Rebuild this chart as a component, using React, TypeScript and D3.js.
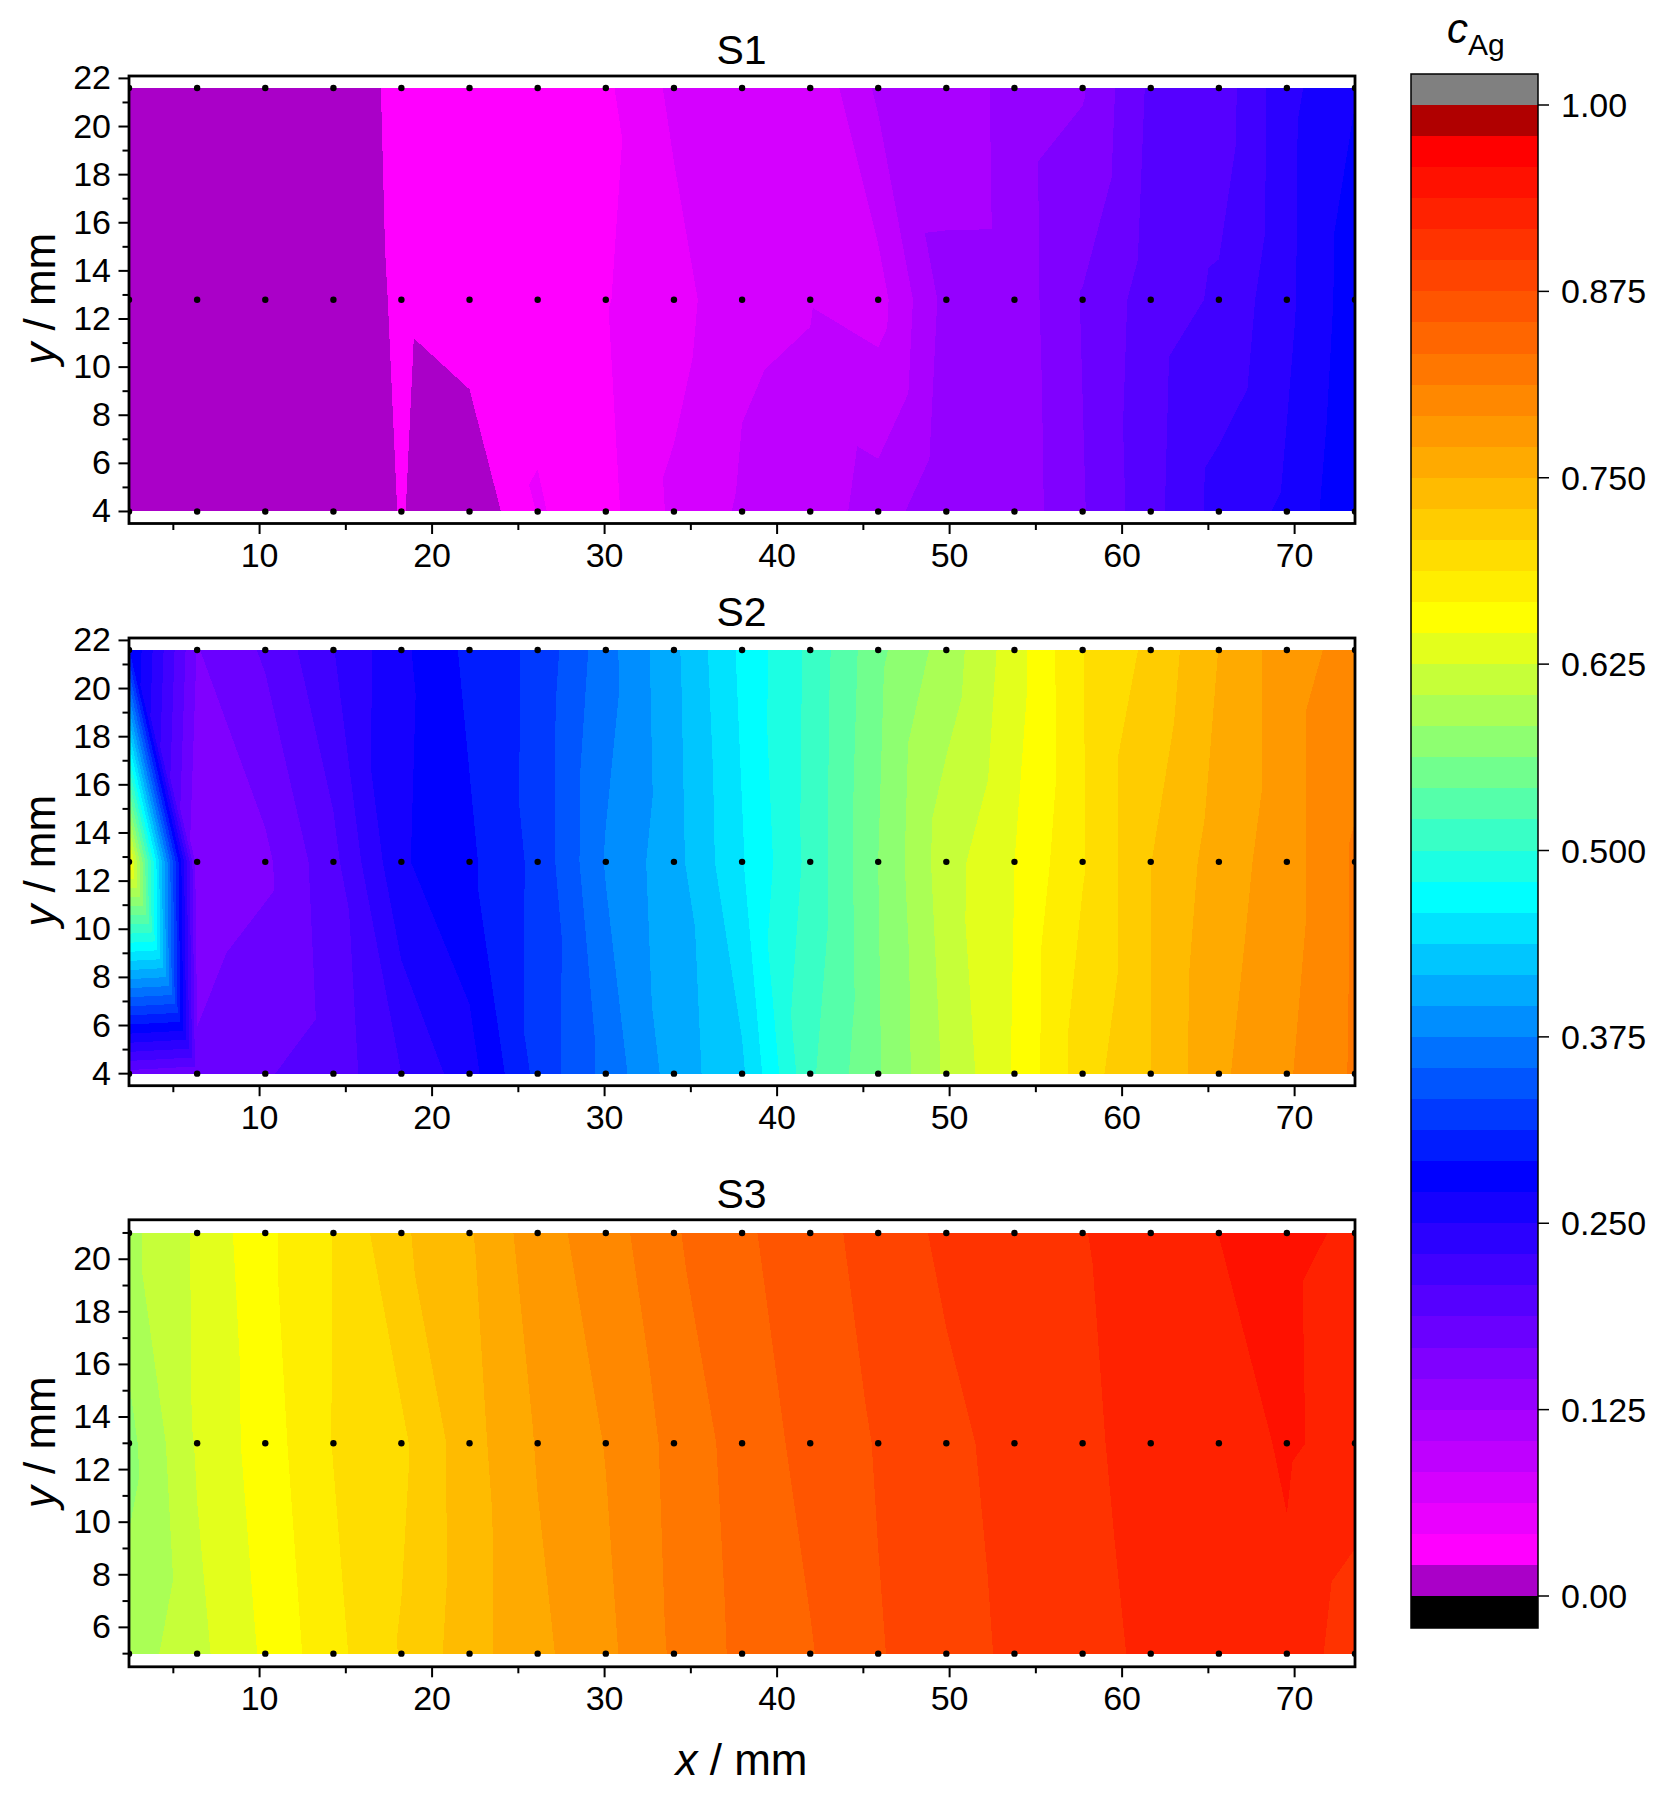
import * as React from "react";
import * as d3 from "d3";

// measuring positions along the strip (mm)
const xPositions = [2.43, 6.38, 10.33, 14.28, 18.22, 22.17, 26.12, 30.07, 34.02, 37.97, 41.92, 45.86, 49.81, 53.76, 57.71, 61.66, 65.61, 69.55, 73.5];

const s1Rows = [21.6, 12.8, 4];
const s1Top = [0.0104, 0.0104, 0.0104, 0.0077, 0.0265, 0.0271, 0.0313, 0.0379, 0.0673, 0.0667, 0.0648, 0.1083, 0.1092, 0.134, 0.1438, 0.1917, 0.1958, 0.2438, 0.2698];
const s1Mid = [0.0063, 0.0063, 0.0063, 0.0042, 0.025, 0.0346, 0.0375, 0.0406, 0.0535, 0.0792, 0.0821, 0.0744, 0.1327, 0.1329, 0.1681, 0.1977, 0.2113, 0.2448, 0.2829];
const s1Bottom = [0.0063, 0.0063, 0.0063, 0.0042, 0.0221, 0.0021, 0.0427, 0.035, 0.0667, 0.0863, 0.0917, 0.114, 0.1417, 0.1313, 0.165, 0.2008, 0.2373, 0.2538, 0.2894];

const s2Rows = [21.6, 12.8, 4];
const s2Top = [0.2948, 0.1656, 0.1906, 0.2281, 0.2663, 0.2969, 0.3179, 0.3667, 0.4119, 0.4633, 0.505, 0.5575, 0.5921, 0.6367, 0.6867, 0.7133, 0.7504, 0.7823, 0.8];
const s2Mid = [0.6646, 0.1521, 0.1621, 0.2021, 0.2681, 0.2879, 0.3183, 0.3767, 0.409, 0.4565, 0.5063, 0.5625, 0.6163, 0.6458, 0.6858, 0.7288, 0.7596, 0.7823, 0.8154];
const s2Bottom = [0.1792, 0.1708, 0.186, 0.1963, 0.2292, 0.2625, 0.3188, 0.361, 0.405, 0.4338, 0.5171, 0.5604, 0.6083, 0.6475, 0.6985, 0.7292, 0.7669, 0.7892, 0.8158];

const s3Rows = [21, 13, 5];
const s3Top = [0.5985, 0.6281, 0.6619, 0.6879, 0.726, 0.7479, 0.7835, 0.8021, 0.8313, 0.85, 0.8685, 0.8819, 0.901, 0.9083, 0.9156, 0.9292, 0.9377, 0.94, 0.9358];
const s3Mid = [0.5769, 0.6273, 0.6563, 0.6883, 0.7042, 0.7421, 0.7725, 0.7925, 0.8183, 0.8425, 0.8608, 0.8765, 0.8896, 0.9042, 0.9135, 0.9229, 0.926, 0.9406, 0.9292];
const s3Bottom = [0.5923, 0.619, 0.6494, 0.6813, 0.7098, 0.7417, 0.7656, 0.7863, 0.8156, 0.8385, 0.8527, 0.8735, 0.8867, 0.9, 0.9104, 0.9202, 0.9229, 0.9313, 0.9042];

const barTicks = [0, 0.125, 0.25, 0.375, 0.5, 0.625, 0.75, 0.875, 1];
const barLabels = ["0.00", "0.125", "0.250", "0.375", "0.500", "0.625", "0.750", "0.875", "1.00"];
const xMajor = [10, 20, 30, 40, 50, 60, 70];
const xMinor = [5, 15, 25, 35, 45, 55, 65];

const FONT = '"Liberation Sans", Arial, sans-serif';
const BANDS = 48;

const anchorColor = d3.scaleLinear<string>()
    .domain([1, 13, 22, 31, 46])
    .range(["#ff00ff", "#0000ff", "#00ffff", "#ffff00", "#ff0000"])
    .interpolate(d3.interpolateRgb);

const bandColor = (k: number) => {
    if (k <= 0) return "#aa00c8";
    if (k >= BANDS - 1) return "#b00000";
    return anchorColor(k);
};

type P = { x: number, y: number, v: number };

// cut a polygon at a level, keep the part above (sign 1) or below (sign -1)
const clip = (poly: P[], level: number, sign: number) => {
    const out: P[] = [];
    for (let i = 0; i < poly.length; i++) {
        const a = poly[i], b = poly[(i + 1) % poly.length];
        const ina = (a.v - level) * sign >= 0, inb = (b.v - level) * sign >= 0;
        if (ina) out.push(a);
        if (ina !== inb) {
            const t = (level - a.v) / (b.v - a.v);
            out.push({ x: a.x + t * (b.x - a.x), y: a.y + t * (b.y - a.y), v: level });
        }
    }
    return out;
};

// the surface is linear on triangles, each cell split from upper left to lower right
const bandPaths = (rows: number[], values: number[][], x: any, y: any) => {
    const line = d3.line<P>().x(d => x(d.x)).y(d => y(d.y));
    const paths: string[] = d3.range(BANDS).map(() => "");
    for (let r = 0; r < rows.length - 1; r++) {
        for (let i = 0; i < xPositions.length - 1; i++) {
            const pt = (ii: number, rr: number): P => ({ x: xPositions[ii], y: rows[rr], v: values[rr][ii] });
            const A = pt(i, r), B = pt(i + 1, r), C = pt(i, r + 1), D = pt(i + 1, r + 1);
            [[A, B, D], [A, C, D]].forEach(tri => {
                const vs = tri.map(d => d.v);
                const k0 = Math.floor(d3.min(vs)! * BANDS), k1 = Math.floor(d3.max(vs)! * BANDS);
                for (let k = k0; k <= k1; k++) {
                    const part = clip(clip(tri, k / BANDS, 1), (k + 1) / BANDS, -1);
                    if (part.length > 2) paths[k] += line(part) + "Z";
                }
            });
        }
    }
    return paths;
};

const xScale = d3.scaleLinear().domain([2.43, 73.5]).range([129, 1355]);

interface PanelProps {
    title: string;
    top: number;
    bottom: number;
    yDomain: number[];
    rows: number[];
    values: number[][];
    yFrom: number;
    yTo: number;
}

const Panel = ({ title, top, bottom, yDomain, rows, values, yFrom, yTo }: PanelProps) => {
    const y = d3.scaleLinear().domain(yDomain).range([bottom, top]);
    const paths = bandPaths(rows, values, xScale, y);
    const clipId = "box-" + title;
    const yTicks = d3.range(yFrom, yTo + 1);
    const [x0, x1] = xScale.range();
    return (
        <g>
            <clipPath id={clipId}><rect x={x0} y={top} width={x1 - x0} height={bottom - top} /></clipPath>
            <g shapeRendering="crispEdges">
                {paths.map((d, k) => d ? <path key={k} d={d} fill={bandColor(k)} /> : null)}
            </g>
            <g clipPath={`url(#${clipId})`}>
                {rows.map(r => xPositions.map(p => <circle key={r + "-" + p} cx={xScale(p)} cy={y(r)} r={3.2} fill="#000" />))}
            </g>
            <rect x={x0} y={top} width={x1 - x0} height={bottom - top} fill="none" stroke="#000" strokeWidth={2.8} />
            {xMajor.map(t => <g key={t}>
                <line x1={xScale(t)} x2={xScale(t)} y1={bottom} y2={bottom + 10.5} stroke="#000" strokeWidth={2} />
                <text x={xScale(t)} y={bottom + 43} textAnchor="middle" fontSize={34} fontFamily={FONT}>{t}</text>
            </g>)}
            {xMinor.map(t => <line key={t} x1={xScale(t)} x2={xScale(t)} y1={bottom} y2={bottom + 6.5} stroke="#000" strokeWidth={2} />)}
            {yTicks.map(t => <g key={t}>
                <line x1={x0} x2={x0 - (t % 2 === 0 ? 10.5 : 6.5)} y1={y(t)} y2={y(t)} stroke="#000" strokeWidth={2} />
                {t % 2 === 0 && <text x={111} y={y(t) + 11} textAnchor="end" fontSize={34} fontFamily={FONT}>{t}</text>}
            </g>)}
            <text x={741.5} y={top - 12} textAnchor="middle" fontSize={41} fontFamily={FONT}>{title}</text>
            <text transform={`translate(54.5,${(top + bottom) / 2 - 1}) rotate(-90)`} textAnchor="middle" fontSize={44} fontFamily={FONT}>
                <tspan fontStyle="italic">y</tspan> / mm
            </text>
        </g>
    );
};

const ColorBar = () => {
    const y = d3.scaleLinear().domain([0, 1]).range([1596, 105]);
    const left = 1411, right = 1538;
    return (
        <g>
            <g shapeRendering="crispEdges">
                <rect x={left} y={74} width={right - left} height={y(1) - 74} fill="#808080" />
                {d3.range(BANDS).map(k => (
                    <rect key={k} x={left} y={y((k + 1) / BANDS)} width={right - left}
                        height={y(k / BANDS) - y((k + 1) / BANDS)} fill={bandColor(k)} />
                ))}
                <rect x={left} y={y(0)} width={right - left} height={1628 - y(0)} fill="#000" />
            </g>
            <rect x={left} y={74} width={right - left} height={1628 - 74} fill="none" stroke="#000" strokeWidth={1.5} />
            {barTicks.map((t, i) => <g key={t}>
                <line x1={right} x2={right + 11} y1={y(t)} y2={y(t)} stroke="#000" strokeWidth={1.5} />
                <text x={1561} y={y(t) + 12} fontSize={34} fontFamily={FONT}>{barLabels[i]}</text>
            </g>)}
            <text x={1447} y={43} fontSize={42} fontStyle="italic" fontFamily={FONT}>c</text>
            <text x={1468} y={55} fontSize={30} fontFamily={FONT}>Ag</text>
        </g>
    );
};

export default function App() {
    return (
        <svg width={1671} height={1798} style={{ position: "absolute", left: 0, top: 0, background: "#fff" }}>
            <Panel title="S1" top={76} bottom={523.5} yDomain={[3.5, 22.1]} rows={s1Rows} values={[s1Top, s1Mid, s1Bottom]} yFrom={4} yTo={22} />
            <Panel title="S2" top={638} bottom={1085.7} yDomain={[3.5, 22.1]} rows={s2Rows} values={[s2Top, s2Mid, s2Bottom]} yFrom={4} yTo={22} />
            <Panel title="S3" top={1219.8} bottom={1666.8} yDomain={[4.5, 21.5]} rows={s3Rows} values={[s3Top, s3Mid, s3Bottom]} yFrom={5} yTo={21} />
            <text x={741.5} y={1775} textAnchor="middle" fontSize={44} fontFamily={FONT}>
                <tspan fontStyle="italic">x</tspan> / mm
            </text>
            <ColorBar />
        </svg>
    );
}
